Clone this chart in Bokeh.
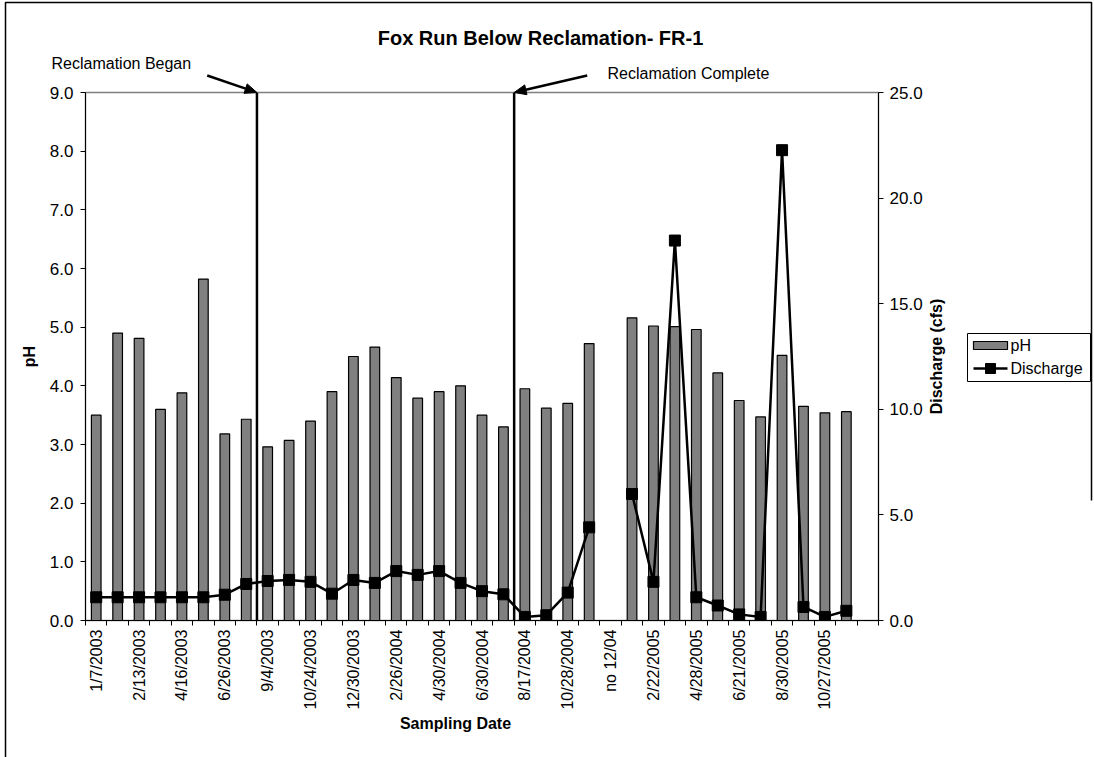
from bokeh.plotting import figure
from bokeh.models import Range1d, LinearAxis, FixedTicker, NumeralTickFormatter
from bokeh.core.properties import value
from bokeh.embed import file_html
from bokeh.resources import INLINE
import math

FONT = "Liberation Sans"

# Sampling slots (one per visit); every other slot carries a date label
n_slots = 37
label_slots = [0, 2, 4, 6, 8, 10, 12, 14, 16, 18, 20, 22, 24, 26, 28, 30, 32, 34]
date_labels = ["1/7/2003", "2/13/2003", "4/16/2003", "6/26/2003", "9/4/2003",
               "10/24/2003", "12/30/2003", "2/26/2004", "4/30/2004", "6/30/2004",
               "8/17/2004", "10/28/2004", "no 12/04", "2/22/2005", "4/28/2005",
               "6/21/2005", "8/30/2005", "10/27/2005"]

nan = float("nan")
ph = [3.50, 4.90, 4.81, 3.60, 3.88, 5.82, 3.18, 3.43, 2.96, 3.07, 3.40, 3.90,
      4.50, 4.66, 4.14, 3.79, 3.90, 4.00, 3.50, 3.30, 3.95, 3.62, 3.70, 4.72,
      nan, 5.16, 5.02, 5.01, 4.96, 4.22, 3.75, 3.47, 4.52, 3.65, 3.54, 3.56]
discharge = [1.10, 1.10, 1.10, 1.10, 1.10, 1.10, 1.22, 1.73, 1.87, 1.92, 1.83,
             1.27, 1.92, 1.78, 2.34, 2.16, 2.34, 1.78, 1.39, 1.24, 0.17, 0.25,
             1.32, 4.41, nan, 5.99, 1.83, 17.99, 1.10, 0.71, 0.29, 0.17, 22.27,
             0.64, 0.17, 0.46]
slots = list(range(len(ph)))

# Reclamation milestones fall between sampling slots
reclamation_began = 7.5
reclamation_complete = 19.5

# page geometry (pixels)
W, H = 1094, 757
LEFT, RIGHT, TOP, BOTTOM = 85, 216, 92, 137
PH_MAX, Q_MAX = 9, 25
X0, X1 = -0.5, n_slots - 0.5
SX = (W - LEFT - RIGHT) / (X1 - X0)      # pixels per slot
SY = (H - TOP - BOTTOM) / PH_MAX          # pixels per pH unit

BAR_FILL = "#808080"


def px_x(px):
    """Page x pixel -> slot coordinate."""
    return X0 + (px - LEFT) / SX


def px_y(py):
    """Page y pixel -> pH coordinate."""
    return (H - BOTTOM - py) / SY


p = figure(width=W, height=H, output_backend="svg", toolbar_location=None,
           x_range=Range1d(X0, X1), y_range=Range1d(0, PH_MAX),
           min_border_left=LEFT, min_border_right=RIGHT, min_border_top=TOP,
           min_border_bottom=BOTTOM)
p.extra_y_ranges = {"q": Range1d(0, Q_MAX)}
p.grid.visible = False
p.outline_line_color = "#808080"
p.outline_line_width = 1.5
p.background_fill_color = "white"
p.border_fill_color = "white"

# x axis: tick marks between slots, labels on every other slot
xa = p.xaxis[0]
xa.ticker = FixedTicker(ticks=label_slots,
                        minor_ticks=[i - 0.5 for i in range(n_slots + 1)])
xa.major_label_overrides = {s: t for s, t in zip(label_slots, date_labels)}
xa.major_label_orientation = math.pi / 2
xa.major_tick_line_color = None
xa.major_tick_out = 5
xa.major_tick_in = 0
xa.minor_tick_out = 5
xa.minor_tick_in = 0
xa.minor_tick_line_color = "black"
xa.axis_line_color = "black"
xa.major_label_standoff = 4
xa.major_label_text_font = FONT
xa.major_label_text_font_size = "16px"
xa.major_label_text_color = "black"

ya = p.yaxis[0]
ya.ticker = FixedTicker(ticks=list(range(0, PH_MAX + 1)))
ya.formatter = NumeralTickFormatter(format="0.0")
ya.axis_label = "pH"
ya.axis_label_text_font = FONT
ya.axis_label_text_font_style = "bold"
ya.axis_label_text_font_size = "16px"
ya.axis_label_text_color = "black"
ya.axis_label_standoff = 9
ya.major_tick_out = 5
ya.major_tick_in = 0
ya.minor_tick_line_color = None
ya.major_label_text_font = FONT
ya.major_label_text_font_size = "17px"
ya.major_label_text_color = "black"
ya.major_label_standoff = 7
ya.axis_line_color = "black"

ra = LinearAxis(y_range_name="q", ticker=FixedTicker(ticks=[0, 5, 10, 15, 20, 25]),
                formatter=NumeralTickFormatter(format="0.0"))
ra.major_tick_out = 5
ra.major_tick_in = 0
ra.minor_tick_line_color = None
ra.major_label_text_font = FONT
ra.major_label_text_font_size = "17px"
ra.major_label_text_color = "black"
ra.major_label_standoff = 6
ra.axis_line_color = "black"
p.add_layout(ra, "right")

bars = p.vbar(x=slots, top=ph, bottom=0, width=0.45, fill_color=BAR_FILL,
              line_color="black", line_width=1.2)

# reclamation milestone lines
p.segment(x0=[reclamation_began, reclamation_complete], y0=[0, 0],
          x1=[reclamation_began, reclamation_complete], y1=[PH_MAX, PH_MAX],
          line_color="black", line_width=2.5)

line = p.line(x=slots, y=discharge, y_range_name="q", line_color="black",
              line_width=2.5)
marks = p.scatter(x=slots, y=discharge, y_range_name="q", marker="square",
                  size=11, fill_color="black", line_color="black")

# texts outside the plotting frame (drawn on the overlay level so they are not clipped)
txt = dict(text_font=value(FONT), level="overlay", text_color="black")
p.text(x=[px_x(540)], y=[px_y(37)], text=["Fox Run Below Reclamation- FR-1"],
       text_font_size="20px", text_font_style="bold", text_align="center",
       text_baseline="middle", **txt)
p.text(x=[px_x(455)], y=[px_y(723)], text=["Sampling Date"],
       text_font_size="16px", text_font_style="bold", text_align="center",
       text_baseline="middle", **txt)
p.text(x=[px_x(936)], y=[px_y(356)], text=["Discharge (cfs)"], angle=math.pi / 2,
       text_font_size="16px", text_font_style="bold", text_align="center",
       text_baseline="middle", **txt)
p.text(x=[px_x(51), px_x(607)], y=[px_y(63), px_y(73)],
       text=["Reclamation Began", "Reclamation Complete"],
       text_font_size="16px", text_align="left", text_baseline="middle", **txt)

# callout arrows pointing at the milestone lines
arrow_starts = [(206.7, 75.0), (586.7, 75.0)]
arrow_ends = [reclamation_began, reclamation_complete]
heads_x, heads_y = [], []
for (sx0, sy0), xe in zip(arrow_starts, arrow_ends):
    ex = LEFT + (xe - X0) * SX
    ey = TOP
    dx, dy = ex - sx0, ey - sy0
    d = math.hypot(dx, dy)
    ux, uy = dx / d, dy / d
    hl, hw = 12.0, 5.0
    bx, by = ex - ux * hl, ey - uy * hl
    p.segment(x0=[px_x(sx0)], y0=[px_y(sy0)], x1=[px_x(bx)], y1=[px_y(by)],
              line_color="black", line_width=2.5, level="overlay")
    heads_x.append([px_x(ex), px_x(bx - uy * hw), px_x(bx + uy * hw)])
    heads_y.append([px_y(ey), px_y(by + ux * hw), px_y(by - ux * hw)])
p.patches(xs=heads_x, ys=heads_y, fill_color="black", line_color="black",
          line_width=1, level="overlay")

# legend box to the right of the discharge axis
LG_L, LG_R, LG_T, LG_B = 967, 1090, 333, 381
p.quad(left=[px_x(LG_L)], right=[px_x(LG_R)], top=[px_y(LG_T)], bottom=[px_y(LG_B)],
       fill_color="white", line_color="black", line_width=1, level="overlay")
p.quad(left=[px_x(973)], right=[px_x(1007)], top=[px_y(341)], bottom=[px_y(349)],
       fill_color=BAR_FILL, line_color="black", line_width=1.2, level="overlay")
p.segment(x0=[px_x(973)], y0=[px_y(368)], x1=[px_x(1007)], y1=[px_y(368)],
          line_color="black", line_width=2.5, level="overlay")
p.quad(left=[px_x(985)], right=[px_x(995)], top=[px_y(363)], bottom=[px_y(373)],
       fill_color="black", line_color="black", line_width=1, level="overlay")
p.text(x=[px_x(1010), px_x(1010)], y=[px_y(345), px_y(368)],
       text=["pH", "Discharge"], text_font_size="16px", text_align="left",
       text_baseline="middle", **txt)

# chart-area border (left, top and upper right edges)
p.multi_line(xs=[[px_x(5), px_x(5), px_x(1091), px_x(1091)]],
             ys=[[px_y(H + 5), px_y(2), px_y(2), px_y(500)]],
             line_color="black", line_width=1.5, level="overlay")

open("out.html", "w").write(file_html(p, INLINE))
